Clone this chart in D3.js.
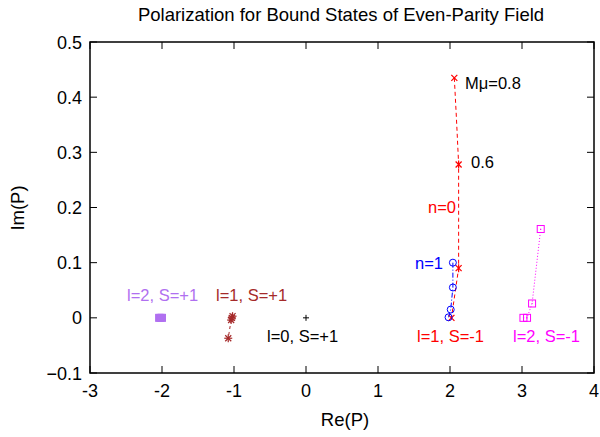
<!DOCTYPE html>
<html><head><meta charset="utf-8">
<script src="https://cdn.jsdelivr.net/npm/d3@7"></script>
<style>body{margin:0;background:#fff}svg{display:block;font-family:"Liberation Sans",Arial,Helvetica,sans-serif}</style>
</head><body><svg id="c" width="600" height="437"></svg>
<script>
const xTicks = [-3,-2,-1,0,1,2,3,4];
const yTicks = [-0.1,0,0.1,0.2,0.3,0.4,0.5];
// n=0, l=1, S=-1 (red)
const redRe = [2.06,2.09,2.12,2.12,2.12,2.02];
const redIm = [0.435,0.36,0.278,0.18,0.09,0.0];
const redMark = [true,false,true,false,true,true];
// n=1, l=1, S=-1 (blue)
const blueRe = [2.04,2.04,2.01,1.98];
const blueIm = [0.100,0.055,0.015,0.001];
// l=2, S=-1 (magenta)
const magRe = [3.26,3.14,3.07,3.02];
const magIm = [0.161,0.026,0.0,0.0];
// l=2, S=+1 (purple)
const purRe = [-2.04,-2.02,-2.0];
const purIm = [0.0,0.0,0.0];
// l=1, S=+1 (brown)
const brnRe = [-1.03,-1.02,-1.04,-1.08];
const brnIm = [0.0,0.003,-0.004,-0.037];
// l=0, S=+1 (black)
const blkRe = [0.0];
const blkIm = [0.0];

const svg = d3.select("#c");
const L=90,R=594,T=42,B=373;
const x = d3.scaleLinear().domain([-3,4]).range([L,R]);
const y = d3.scaleLinear().domain([-0.1,0.5]).range([B,T]);
const fs = 18;

const tl = 7;
const g = svg.append("g").attr("stroke","#000").attr("stroke-width",1);
xTicks.forEach(t=>{
  g.append("line").attr("x1",x(t)).attr("x2",x(t)).attr("y1",B).attr("y2",B-tl);
  g.append("line").attr("x1",x(t)).attr("x2",x(t)).attr("y1",T).attr("y2",T+tl);
});
yTicks.forEach(t=>{
  g.append("line").attr("x1",L).attr("x2",L+tl).attr("y1",y(t)).attr("y2",y(t));
  g.append("line").attr("x1",R).attr("x2",R-tl).attr("y1",y(t)).attr("y2",y(t));
});
svg.append("rect").attr("x",L).attr("y",T).attr("width",R-L).attr("height",B-T)
  .attr("fill","none").attr("stroke","#000").attr("stroke-width",1.5);

svg.selectAll(".xt").data(xTicks).enter().append("text")
  .attr("x",d=>x(d)).attr("y",B+24).attr("text-anchor","middle").attr("font-size",fs).text(d=>d);
svg.selectAll(".yt").data(yTicks).enter().append("text")
  .attr("x",L-8).attr("y",d=>y(d)+6.5).attr("text-anchor","end").attr("font-size",fs)
  .text(d=>d===0?"0":d3.format(".1f")(d));

svg.append("text").attr("x",341).attr("y",21).attr("text-anchor","middle").attr("font-size",18.5)
  .text("Polarization for Bound States of Even-Parity Field");
svg.append("text").attr("x",345).attr("y",426).attr("text-anchor","middle").attr("font-size",18.5).text("Re(P)");
svg.append("text").attr("transform","translate(24,208) rotate(-90)").attr("text-anchor","middle").attr("font-size",18.5).text("Im(P)");

const line = d3.line().x(d=>x(d[0])).y(d=>y(d[1])).curve(d3.curveMonotoneY);
function series(re,im,color,dash){
  const pts = re.map((v,i)=>[v,im[i]]);
  svg.append("path").attr("d",d3.line().x(d=>x(d[0])).y(d=>y(d[1]))(pts)).attr("fill","none").attr("stroke",color)
    .attr("stroke-width",1).attr("stroke-dasharray",dash);
  return pts;
}
function star(cx,cy,c,s){
  const gg=svg.append("g").attr("stroke",c).attr("stroke-width",1.2);
  gg.append("line").attr("x1",cx-s).attr("x2",cx+s).attr("y1",cy-s).attr("y2",cy+s);
  gg.append("line").attr("x1",cx-s).attr("x2",cx+s).attr("y1",cy+s).attr("y2",cy-s);
  return gg;
}
// red
const rp = series(redRe,redIm,"#f00","4,3");
rp.forEach((p,i)=>{ if(redMark[i]){ const gg=star(x(p[0]),y(p[1]),"#f00",3);
  if(i===2||i===4) gg.append("line").attr("x1",x(p[0])).attr("x2",x(p[0])).attr("y1",y(p[1])-4).attr("y2",y(p[1])+4); }});
// blue
const bp = series(blueRe,blueIm,"#00f","5,2,1,2");
bp.forEach(p=>svg.append("circle").attr("cx",x(p[0])).attr("cy",y(p[1])).attr("r",3.5)
  .attr("fill","none").attr("stroke","#00f"));
// magenta
const mp = series(magRe,magIm,"#f0f","1,2");
mp.forEach(p=>{svg.append("rect").attr("x",x(p[0])-3.5).attr("y",y(p[1])-3.5).attr("width",7).attr("height",7)
  .attr("fill","none").attr("stroke","#f0f");
  svg.append("circle").attr("cx",x(p[0])).attr("cy",y(p[1])).attr("r",0.6).attr("fill","#f0f");});
// purple
purRe.forEach((v,i)=>svg.append("rect").attr("x",x(v)-3.5).attr("y",y(purIm[i])-3.5).attr("width",7).attr("height",7)
  .attr("fill","#b070f0").attr("stroke","#b070f0"));
// brown
series(brnRe,brnIm,"#a52a2a","3,3");
brnRe.forEach((v,i)=>{const cx=x(v),cy=y(brnIm[i]);const gg=star(cx,cy,"#a52a2a",3);
  gg.append("line").attr("x1",cx-4).attr("x2",cx+4).attr("y1",cy).attr("y2",cy);
  gg.append("line").attr("x1",cx).attr("x2",cx).attr("y1",cy-4).attr("y2",cy+4);});
// black
blkRe.forEach((v,i)=>{const cx=x(v),cy=y(blkIm[i]);
  svg.append("line").attr("x1",cx-3).attr("x2",cx+3).attr("y1",cy).attr("y2",cy).attr("stroke","#000");
  svg.append("line").attr("x1",cx).attr("x2",cx).attr("y1",cy-3).attr("y2",cy+3).attr("stroke","#000");});

function lab(tx,px,py,c,anchor){svg.append("text").attr("x",px).attr("y",py).attr("fill",c)
  .attr("text-anchor",anchor||"start").attr("font-size",16.5).text(tx);}
lab("Mμ=0.8",465,89,"#000");
lab("0.6",471,168,"#000");
lab("n=0",456,213,"#f00","end");
lab("n=1",443,269,"#00f","end");
lab("l=1, S=-1",417,342,"#f00");
lab("l=2, S=-1",513,342,"#f0f");
lab("l=2, S=+1",127,301,"#b070f0");
lab("l=1, S=+1",216,301,"#a52a2a");
lab("l=0, S=+1",267,342,"#000");
</script></body></html>
